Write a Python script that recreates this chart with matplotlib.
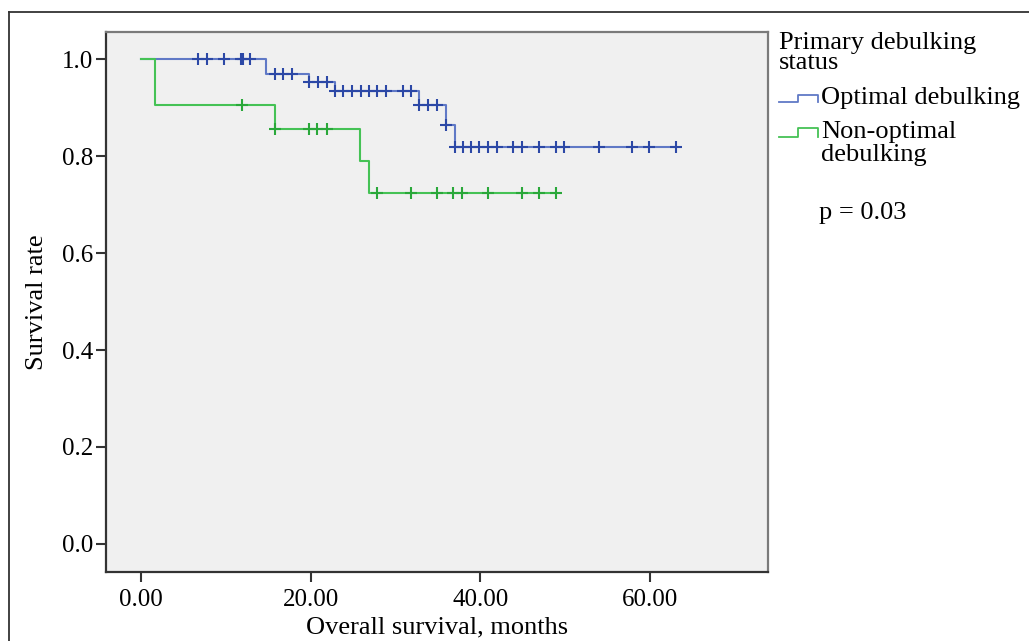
import numpy as np
import matplotlib.pyplot as plt
from matplotlib.lines import Line2D

# Kaplan-Meier steps (months, survival after the drop)
opt_times = [14.8, 19.8, 22.9, 32.8, 35.9, 37.0]
opt_surv = [0.970, 0.953, 0.935, 0.905, 0.864, 0.819]
opt_cens = [6.7, 7.8, 9.8, 11.8, 12.0, 12.9, 15.8, 16.7, 17.8, 19.8, 20.9, 21.9,
            22.9, 23.8, 24.9, 25.9, 26.9, 27.8, 28.9, 30.9, 31.8, 32.8, 33.8, 34.9,
            35.9, 37.0, 38.0, 38.9, 39.9, 40.9, 42.0, 43.9, 44.9, 46.9, 48.9, 49.9,
            54.0, 57.9, 59.9, 63.0]

non_times = [1.7, 15.8, 25.8, 26.9]
non_surv = [0.905, 0.855, 0.790, 0.723]
non_cens = [11.9, 15.8, 19.8, 20.8, 21.9, 27.8, 31.8, 34.9, 36.8, 37.9, 40.9,
            44.9, 46.9, 48.9]

group_names = ['Optimal debulking', 'Non-optimal\ndebulking']
legend_title = 'Primary debulking\nstatus'
p_text = 'p = 0.03'
xticks = [0, 20, 40, 60]
yticks = [0.0, 0.2, 0.4, 0.6, 0.8, 1.0]

plt.rcParams['font.family'] = ['Liberation Serif', 'DejaVu Serif']

fig = plt.figure(figsize=(10.29, 6.41), dpi=100)
ax = fig.add_axes([0.1030, 0.1076, 0.6434, 0.8425])
ax.set_facecolor('#f0f0f0')


def km_curve(times, surv, cens):
    x = [0] + list(times) + [max(cens)]
    y = [1.0] + list(surv) + [surv[-1]]
    levels = np.array([1.0] + list(surv))
    cy = levels[np.searchsorted(times, cens, side='right')]
    return x, y, cy


groups = [
    (opt_times, opt_surv, opt_cens, '#6079c6', '#2c48a6'),
    (non_times, non_surv, non_cens, '#45c255', '#2aa83a'),
]
for times, surv, cens, lc, mc in groups:
    x, y, cy = km_curve(times, surv, cens)
    ax.step(x, y, where='post', color=lc, lw=1.5, zorder=2)
    ax.plot(cens, cy, ls='none', marker='+', ms=8, mew=1.5, color=mc, zorder=3)

ax.set_xlim(-4.1, 73.9)
ax.set_ylim(-0.058, 1.056)
ax.set_xticks(xticks)
ax.set_xticklabels([f'{t:.2f}' for t in xticks])
ax.set_yticks(yticks)
ax.set_yticklabels([f'{t:.1f}' for t in yticks])
ax.tick_params(labelsize=18, length=7, width=1.5, color='#333333', pad=2)
ax.tick_params(axis='x', pad=5)

for side in ['left', 'bottom']:
    ax.spines[side].set_color('#333333')
    ax.spines[side].set_linewidth(1.6)
for side in ['top', 'right']:
    ax.spines[side].set_color('#7a7a7a')
    ax.spines[side].set_linewidth(1.6)

ax.set_xlabel('Overall survival, months', fontsize=19, labelpad=4)
ax.set_ylabel('Survival rate', fontsize=19, labelpad=10)

# legend drawn by hand, SPSS style
W, H = 1029, 641
fx = lambda px: px / W
fy = lambda py: 1 - py / H

fig.text(fx(779), fy(32), legend_title, fontsize=19, va='top', ha='left',
         linespacing=0.9)
handle_cols = ['#6079c6', '#45c255']
handle_y = [(102, 95), (137, 128)]
for (lo, hi), c in zip(handle_y, handle_cols):
    hx = [fx(779), fx(798), fx(798), fx(818), fx(818)]
    hy = [fy(lo), fy(lo), fy(hi), fy(hi), fy(lo)]
    fig.add_artist(Line2D(hx, hy, color=c, lw=1.3))
fig.text(fx(821), fy(98), group_names[0], fontsize=19, va='center', ha='left')
fig.text(fx(821), fy(121), group_names[1], fontsize=19, va='top', ha='left',
         linespacing=1.05)
fig.text(fx(819), fy(213), p_text, fontsize=19, va='center', ha='left')

# outer frame of the figure panel
fig.add_artist(Line2D([fx(9), fx(9)], [0, fy(12)], color='#333333', lw=1.3))
fig.add_artist(Line2D([fx(9), 1], [fy(12), fy(12)], color='#333333', lw=1.3))

fig.savefig('out.png', dpi=100)
